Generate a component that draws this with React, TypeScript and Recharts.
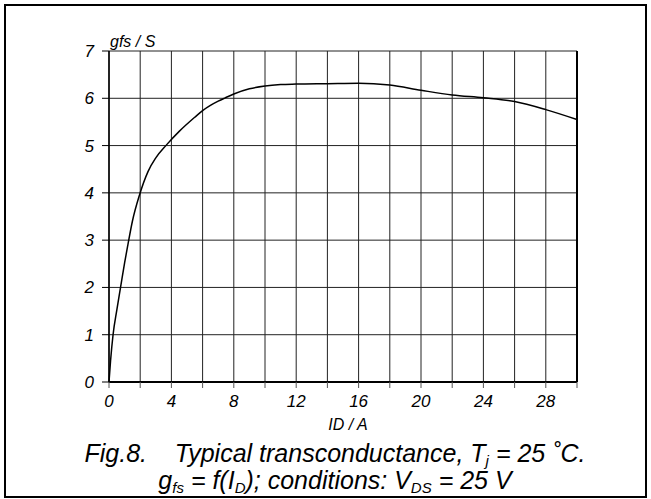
import React from "react";
import { LineChart, Line, XAxis, YAxis, CartesianGrid, ReferenceLine } from "recharts";

const idValues = [0, 0.1, 0.26, 0.5, 0.74, 1.0, 1.21, 1.5, 1.95, 2.5, 3, 3.7, 4.5, 5.5, 6, 6.5, 7, 7.45, 8, 9, 10, 11, 12, 14, 16, 18, 20, 22, 24, 26, 28, 30];
const gfsValues = [0, 0.45, 1.0, 1.52, 2.0, 2.52, 2.9, 3.4, 3.95, 4.45, 4.74, 5.02, 5.3, 5.6, 5.74, 5.85, 5.94, 6.01, 6.09, 6.2, 6.26, 6.29, 6.3, 6.31, 6.32, 6.28, 6.17, 6.07, 6.01, 5.93, 5.76, 5.55];
const xTicks = [0, 2, 4, 6, 8, 10, 12, 14, 16, 18, 20, 22, 24, 26, 28, 30];
const yTicks = [0, 1, 2, 3, 4, 5, 6, 7];

const data = idValues.map((x, i) => ({ id: x, gfs: gfsValues[i] }));

const FONT = "'Liberation Sans', Arial, sans-serif";

export default function App() {
  return (
    <div style={{ position: "absolute", left: 0, top: 0, width: 651, height: 499, background: "#fff" }}>
      <LineChart width={651} height={499} data={data} margin={{ top: 51, right: 74, bottom: 87, left: 0 }}>
        <CartesianGrid stroke="#222" strokeWidth={1} />
        <XAxis
          dataKey="id"
          type="number"
          domain={[0, 30]}
          ticks={xTicks}
          interval={0}
          height={30}
          tickSize={6}
          tickMargin={7}
          stroke="#000"
          axisLine={{ stroke: "#000", strokeWidth: 2 }}
          tickLine={{ stroke: "#555" }}
          tickFormatter={(v: number) => (v % 4 === 0 && v < 30 ? String(v) : "")}
          tick={{ fill: "#000", fontSize: 17, fontStyle: "italic", fontFamily: FONT }}
        />
        <YAxis
          dataKey="gfs"
          type="number"
          domain={[0, 7]}
          ticks={yTicks}
          interval={0}
          width={109}
          tickSize={7}
          tickMargin={8}
          axisLine={{ stroke: "#000", strokeWidth: 1.5 }}
          tickLine={{ stroke: "#000" }}
          tick={{ fill: "#000", fontSize: 17, fontStyle: "italic", fontFamily: FONT }}
        />
        <ReferenceLine x={30} stroke="#000" strokeWidth={2} />
        <Line type="monotone" dataKey="gfs" stroke="#000" strokeWidth={1.5} dot={false} isAnimationActive={false} />
      </LineChart>
      <svg width={651} height={499} style={{ position: "absolute", left: 0, top: 0, pointerEvents: "none" }}>
        <rect x={5} y={5} width={641} height={492} fill="none" stroke="#000" strokeWidth={2} />
        <text x={110} y={47} fontFamily={FONT} fontStyle="italic" fontSize={16} fill="#000">gfs / S</text>
        <text x={348} y={430} textAnchor="middle" fontFamily={FONT} fontStyle="italic" fontSize={16} fill="#000">ID / A</text>
        <text x={335} y={462} textAnchor="middle" fontFamily={FONT} fontStyle="italic" fontSize={25} fill="#000" xmlSpace="preserve">
          {"Fig.8.    Typical transconductance, T"}
          <tspan fontSize={15} dy={4}>j</tspan>
          <tspan dy={-4}>{" = 25 ˚C."}</tspan>
        </text>
        <text x={335} y={489} textAnchor="middle" fontFamily={FONT} fontStyle="italic" fontSize={25} fill="#000">
          {"g"}
          <tspan fontSize={15} dy={4}>fs</tspan>
          <tspan dy={-4}>{" = f(I"}</tspan>
          <tspan fontSize={15} dy={4}>D</tspan>
          <tspan dy={-4}>{"); conditions: V"}</tspan>
          <tspan fontSize={15} dy={4}>DS</tspan>
          <tspan dy={-4}>{" = 25 V"}</tspan>
        </text>
      </svg>
    </div>
  );
}
